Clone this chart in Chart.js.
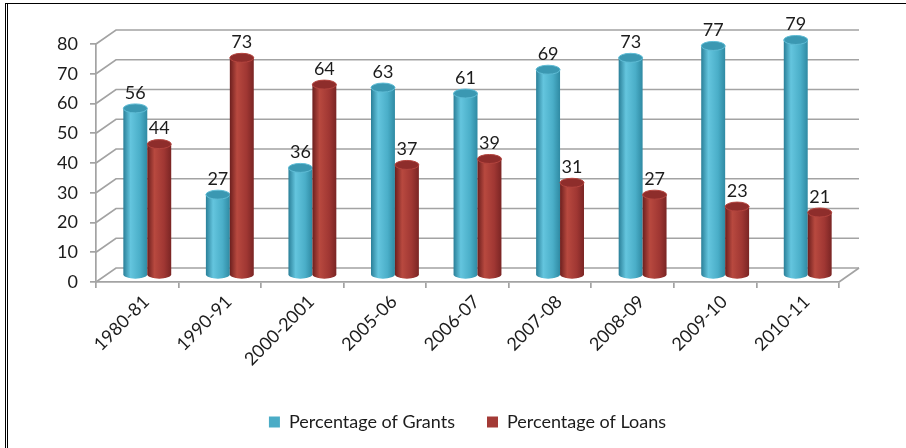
<!DOCTYPE html>
<html>
<head>
<meta charset="utf-8">
<script src="https://cdn.jsdelivr.net/npm/chart.js@4.4.0/dist/chart.umd.min.js"></script>
<style>
  html, body { margin: 0; padding: 0; background: #fff; }
  #wrap { position: relative; width: 906px; height: 448px; overflow: hidden; }
  #frame {
    position: absolute; left: 5px; top: 3px; right: -2px; bottom: -2px;
    border-left: 3px double #000; border-top: 1px solid #000;
    pointer-events: none;
  }
  #chart { position: absolute; left: 0; top: 0; }
</style>
</head>
<body>
<div id="wrap">
  <canvas id="chart" width="906" height="448"></canvas>
  <div id="frame"></div>
</div>
<script>
// session labels and the two shares (percent)
const years = ["1980-81", "1990-91", "2000-2001", "2005-06", "2006-07", "2007-08", "2008-09", "2009-10", "2010-11"];
const grants = [56, 27, 36, 63, 61, 69, 73, 77, 79];
const loans = [44, 73, 64, 37, 39, 31, 27, 23, 21];
const yMax = 80;
const yStep = 10;

// fake 3d: wall depth and where the columns sit inside it
const WALL_DX = 20, WALL_DY = -14;
const BAR_DX = 10, BAR_DY = -7;
const CAP_RY = 4.5;

const shades = [
  { edge: "#2a7f98", light: "#64c5de", mid: "#4aaec8", dark: "#2f8aa3", cap: "#3b98b2", rim: "#5fbcd5" },
  { edge: "#6c1f1e", light: "#b8493f", mid: "#a03733", dark: "#7a2524", cap: "#8e2d2b", rim: "#b3443e" }
];

const FONT = "Lato, 'Open Sans', sans-serif";
Chart.defaults.font.family = FONT;
Chart.defaults.color = "#1c1c1c";

function drawCylinder(ctx, cx, top, bottom, rx, s) {
  const g = ctx.createLinearGradient(cx - rx, 0, cx + rx, 0);
  g.addColorStop(0, s.edge);
  g.addColorStop(0.3, s.light);
  g.addColorStop(0.7, s.mid);
  g.addColorStop(1, s.dark);
  ctx.beginPath();
  ctx.moveTo(cx - rx, top);
  ctx.lineTo(cx - rx, bottom);
  ctx.ellipse(cx, bottom, rx, CAP_RY, 0, Math.PI, 0, true);
  ctx.lineTo(cx + rx, top);
  ctx.closePath();
  ctx.fillStyle = g;
  ctx.fill();
  // top cap
  ctx.beginPath();
  ctx.ellipse(cx, top, rx, CAP_RY, 0, 0, Math.PI * 2);
  ctx.fillStyle = s.cap;
  ctx.fill();
  ctx.lineWidth = 1;
  ctx.strokeStyle = s.rim;
  ctx.stroke();
}

const cylinders3d = {
  id: "cylinders3d",
  beforeDatasetsDraw(chart) {
    const { ctx, chartArea: area, scales: { y } } = chart;
    ctx.save();

    // side wall + back wall grid
    ctx.strokeStyle = "#a3a3a3";
    ctx.lineWidth = 1.7;
    y.ticks.forEach(t => {
      const py = y.getPixelForValue(t.value);
      ctx.beginPath();
      ctx.moveTo(area.left, py);
      ctx.lineTo(area.left + WALL_DX, py + WALL_DY);
      ctx.lineTo(area.right + WALL_DX, py + WALL_DY);
      ctx.stroke();
    });
    // floor right edge
    ctx.beginPath();
    ctx.moveTo(area.right, area.bottom);
    ctx.lineTo(area.right + WALL_DX, area.bottom + WALL_DY);
    ctx.stroke();

    // columns
    const metas = [chart.getDatasetMeta(0), chart.getDatasetMeta(1)];
    years.forEach((_, i) => {
      metas.forEach((meta, d) => {
        const bar = meta.data[i];
        drawCylinder(ctx, bar.x + BAR_DX, bar.y + BAR_DY, bar.base + BAR_DY, bar.width / 2, shades[d]);
      });
    });

    // value labels
    ctx.font = "18px " + FONT;
    ctx.fillStyle = "#1c1c1c";
    ctx.textAlign = "center";
    ctx.textBaseline = "bottom";
    metas.forEach((meta, d) => {
      const vals = chart.data.datasets[d].data;
      meta.data.forEach((bar, i) => {
        ctx.fillText(String(vals[i]), bar.x + BAR_DX, bar.y + BAR_DY - CAP_RY - 2);
      });
    });

    ctx.restore();
    return false;
  }
};

new Chart(document.getElementById("chart"), {
  type: "bar",
  data: {
    labels: years,
    datasets: [
      { label: "Percentage of Grants", data: grants, backgroundColor: "#4bacc6" },
      { label: "Percentage of Loans", data: loans, backgroundColor: "#a33a36" }
    ]
  },
  options: {
    responsive: false,
    animation: false,
    events: [],
    datasets: { bar: { categoryPercentage: 0.58, barPercentage: 1 } },
    layout: { padding: { left: 0, right: 67, top: 44, bottom: 7 } },
    plugins: {
      tooltip: { enabled: false },
      legend: {
        position: "bottom",
        fullSize: false,
        labels: {
          boxWidth: 11,
          boxHeight: 11,
          padding: 32,
          color: "#1c1c1c",
          font: { size: 18 }
        }
      }
    },
    scales: {
      x: {
        afterFit: s => { s.height = 99; },
        grid: { offset: true, drawOnChartArea: false, tickLength: 6, color: "#a3a3a3", lineWidth: 1.7 },
        border: { display: true, color: "#a3a3a3", width: 1.7 },
        ticks: { minRotation: 45, maxRotation: 45, labelOffset: 9, padding: 3, font: { size: 18 }, color: "#1c1c1c" }
      },
      y: {
        min: 0,
        max: yMax,
        afterFit: s => { s.width = 96; },
        grid: { drawOnChartArea: false, tickLength: 6, color: "#a3a3a3", lineWidth: 1.7 },
        border: { display: true, color: "#a3a3a3", width: 1.7 },
        ticks: { stepSize: yStep, padding: 12, font: { size: 18 }, color: "#1c1c1c" }
      }
    }
  },
  plugins: [cylinders3d]
});
</script>
</body>
</html>
